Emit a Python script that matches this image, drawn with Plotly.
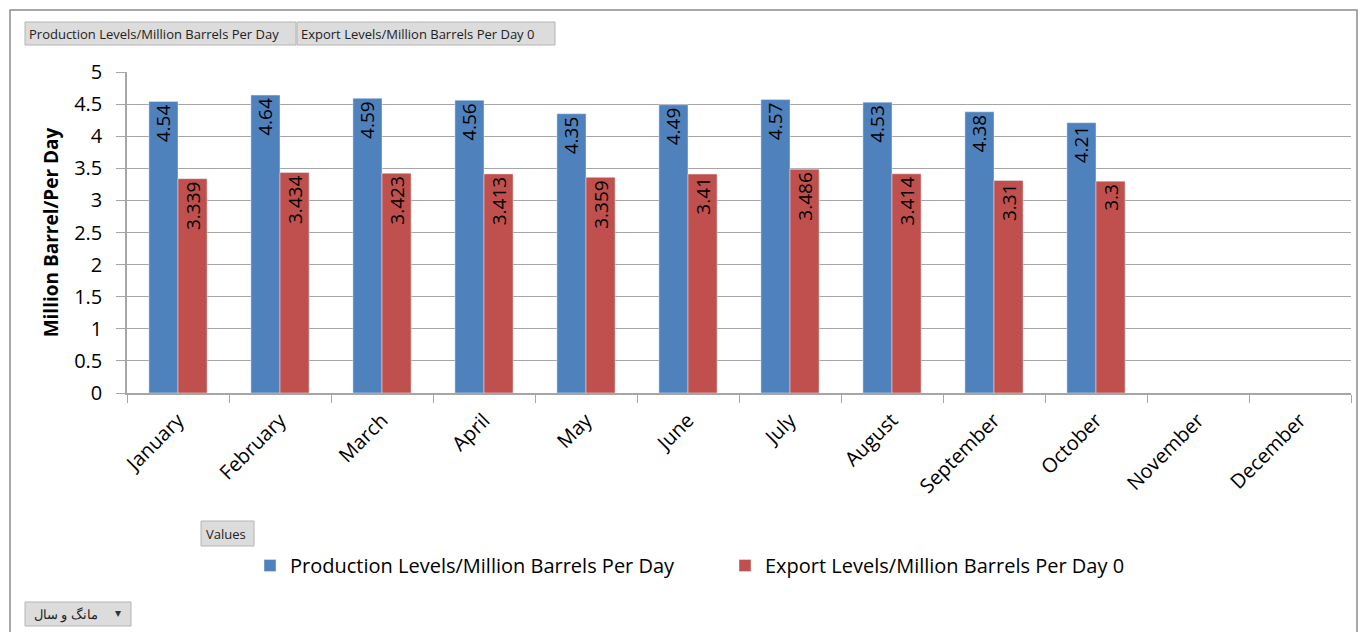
import plotly.graph_objects as go

months = ["January", "February", "March", "April", "May", "June", "July",
          "August", "September", "October", "November", "December"]
production = [4.54, 4.64, 4.59, 4.56, 4.35, 4.49, 4.57, 4.53, 4.38, 4.21, None, None]
export = [3.339, 3.434, 3.423, 3.413, 3.359, 3.41, 3.486, 3.414, 3.31, 3.3, None, None]
prod_name = "Production Levels/Million Barrels Per Day"
exp_name = "Export Levels/Million Barrels Per Day 0"
y_ticks = [0, 0.5, 1, 1.5, 2, 2.5, 3, 3.5, 4, 4.5, 5]

FONT = "Open Sans"
W, H = 1358, 632
L, R, T, B = 127, 7, 72, 239
PW, PH = W - L - R, H - T - B


def xp(px):
    return (px - L) / PW


def yp(py):
    return (H - B - py) / PH


def lab(v):
    return "" if v is None else str(v)


fig = go.Figure()
fig.add_trace(go.Bar(
    x=months, y=production, name=prod_name, marker_color="#4F81BD",
    text=[lab(v) for v in production], textposition="inside", insidetextanchor="end",
    textangle=-90, textfont=dict(family=FONT, size=19, color="black"),
))
fig.add_trace(go.Bar(
    x=months, y=export, name=exp_name, marker_color="#C0504D",
    text=[lab(v) for v in export], textposition="inside", insidetextanchor="end",
    textangle=-90, textfont=dict(family=FONT, size=19, color="black"),
))

shapes = []
annotations = []
# outer frame
shapes.append(dict(type="rect", xref="paper", yref="paper", x0=xp(10), x1=xp(1357),
                   y0=yp(640), y1=yp(10), line=dict(color="#8c8c8c", width=1.5),
                   fillcolor="rgba(0,0,0,0)", layer="below"))


def button(x0, x1, y0, y1, text, tx, size=13, anchor="left"):
    shapes.append(dict(type="rect", xref="paper", yref="paper", x0=xp(x0), x1=xp(x1),
                       y0=yp(y1), y1=yp(y0), line=dict(color="#b4b4b4", width=1),
                       fillcolor="#dcdcdc"))
    annotations.append(dict(xref="paper", yref="paper", x=xp(tx), y=yp((y0 + y1) / 2),
                            xanchor=anchor, yanchor="middle", text=text, showarrow=False,
                            font=dict(family=FONT, size=size, color="#222")))


button(25, 296, 22, 45, prod_name, 27)
button(297, 555, 22, 45, exp_name, 299)
button(201, 254, 521, 546, "Values", 204)
button(25, 131, 602, 626, "مانگ و سال", 100, size=13, anchor="right")
annotations.append(dict(xref="paper", yref="paper", x=xp(118), y=yp(613), xanchor="center",
                        yanchor="middle", text="▾", showarrow=False,
                        font=dict(family="DejaVu Sans", size=12, color="#333")))

fig.update_layout(
    width=W, height=H,
    margin=dict(l=L, r=R, t=T, b=B, autoexpand=False),
    paper_bgcolor="white", plot_bgcolor="white",
    barmode="group", bargap=0.43, bargroupgap=0,
    font=dict(family=FONT, color="black"),
    uniformtext=dict(minsize=19, mode="show"),
    shapes=shapes, annotations=annotations,
    legend=dict(orientation="h", x=xp(250), y=yp(546), xanchor="left", yanchor="top",
                font=dict(family=FONT, size=20, color="black"),
                entrywidth=430, entrywidthmode="pixels", itemwidth=30,
                bgcolor="rgba(0,0,0,0)"),
    showlegend=True,
)
fig.update_xaxes(
    type="category", categoryorder="array", categoryarray=months,
    tickangle=-45, tickfont=dict(family=FONT, size=20, color="black"),
    showline=True, linecolor="#a6a6a6", linewidth=1.5,
    ticks="outside", tickson="boundaries", ticklen=8, tickcolor="#a6a6a6",
    ticklabelstandoff=6,
    showgrid=False,
)
fig.update_yaxes(
    range=[0, 5], tickvals=y_ticks, ticktext=[f"{v:g}" for v in y_ticks],
    tickfont=dict(family=FONT, size=20, color="black"),
    showgrid=True, gridcolor="#a6a6a6", gridwidth=1,
    showline=True, linecolor="#a6a6a6", linewidth=1.5,
    ticks="outside", ticklen=9, tickcolor="#a6a6a6", ticklabelstandoff=10,
    title=dict(text="<b>Million Barrel/Per Day</b>", font=dict(family=FONT, size=19, color="black"),
               standoff=10),
    zeroline=False,
)

fig.write_html("out.html")
